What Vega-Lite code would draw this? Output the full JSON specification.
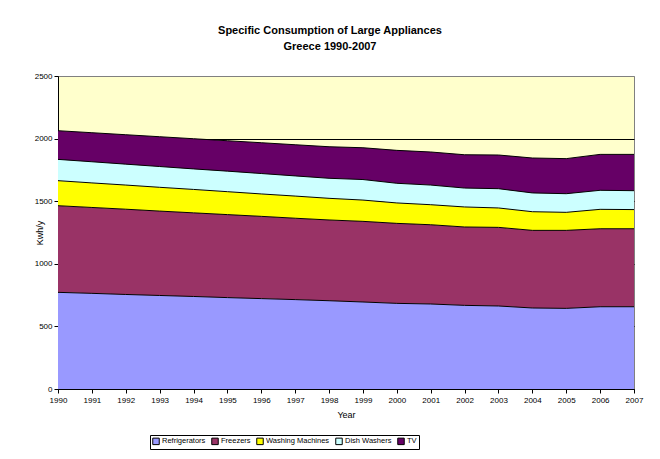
{
  "$schema": "https://vega.github.io/schema/vega-lite/v6.json",
  "autosize": {"type": "none"},
  "width": 576,
  "height": 313,
  "padding": {"left": 58, "top": 76, "right": 26, "bottom": 70},
  "background": "white",
  "title": {
    "text": ["Specific Consumption of Large Appliances", "Greece 1990-2007"],
    "font": "Liberation Sans",
    "fontSize": 11,
    "fontWeight": "bold",
    "lineHeight": 16,
    "offset": 20,
    "dx": -16,
    "color": "black"
  },
  "config": {
    "font": "Liberation Sans",
    "view": {"fill": "#FFFFCC", "stroke": "#808080", "strokeWidth": 1},
    "axis": {"domainColor": "black", "tickColor": "black", "labelColor": "black", "titleColor": "black", "labelFont": "Liberation Sans", "titleFont": "Liberation Sans", "titleFontWeight": "normal"}
  },
  "data": {
    "values": [
      {"year": 1990, "appliance": "Refrigerators", "value": 772},
      {"year": 1991, "appliance": "Refrigerators", "value": 764},
      {"year": 1992, "appliance": "Refrigerators", "value": 755},
      {"year": 1993, "appliance": "Refrigerators", "value": 747},
      {"year": 1994, "appliance": "Refrigerators", "value": 739},
      {"year": 1995, "appliance": "Refrigerators", "value": 730},
      {"year": 1996, "appliance": "Refrigerators", "value": 722},
      {"year": 1997, "appliance": "Refrigerators", "value": 714},
      {"year": 1998, "appliance": "Refrigerators", "value": 705},
      {"year": 1999, "appliance": "Refrigerators", "value": 695},
      {"year": 2000, "appliance": "Refrigerators", "value": 684},
      {"year": 2001, "appliance": "Refrigerators", "value": 679},
      {"year": 2002, "appliance": "Refrigerators", "value": 668},
      {"year": 2003, "appliance": "Refrigerators", "value": 663},
      {"year": 2004, "appliance": "Refrigerators", "value": 647},
      {"year": 2005, "appliance": "Refrigerators", "value": 644},
      {"year": 2006, "appliance": "Refrigerators", "value": 657},
      {"year": 2007, "appliance": "Refrigerators", "value": 657},
      {"year": 1990, "appliance": "Freezers", "value": 692},
      {"year": 1991, "appliance": "Freezers", "value": 686},
      {"year": 1992, "appliance": "Freezers", "value": 681},
      {"year": 1993, "appliance": "Freezers", "value": 674},
      {"year": 1994, "appliance": "Freezers", "value": 668},
      {"year": 1995, "appliance": "Freezers", "value": 663},
      {"year": 1996, "appliance": "Freezers", "value": 657},
      {"year": 1997, "appliance": "Freezers", "value": 650},
      {"year": 1998, "appliance": "Freezers", "value": 645},
      {"year": 1999, "appliance": "Freezers", "value": 644},
      {"year": 2000, "appliance": "Freezers", "value": 639},
      {"year": 2001, "appliance": "Freezers", "value": 633},
      {"year": 2002, "appliance": "Freezers", "value": 626},
      {"year": 2003, "appliance": "Freezers", "value": 628},
      {"year": 2004, "appliance": "Freezers", "value": 620},
      {"year": 2005, "appliance": "Freezers", "value": 623},
      {"year": 2006, "appliance": "Freezers", "value": 623},
      {"year": 2007, "appliance": "Freezers", "value": 623},
      {"year": 1990, "appliance": "Washing Machines", "value": 200},
      {"year": 1991, "appliance": "Washing Machines", "value": 196},
      {"year": 1992, "appliance": "Washing Machines", "value": 193},
      {"year": 1993, "appliance": "Washing Machines", "value": 190},
      {"year": 1994, "appliance": "Washing Machines", "value": 187},
      {"year": 1995, "appliance": "Washing Machines", "value": 183},
      {"year": 1996, "appliance": "Washing Machines", "value": 179},
      {"year": 1997, "appliance": "Washing Machines", "value": 177},
      {"year": 1998, "appliance": "Washing Machines", "value": 173},
      {"year": 1999, "appliance": "Washing Machines", "value": 170},
      {"year": 2000, "appliance": "Washing Machines", "value": 163},
      {"year": 2001, "appliance": "Washing Machines", "value": 160},
      {"year": 2002, "appliance": "Washing Machines", "value": 160},
      {"year": 2003, "appliance": "Washing Machines", "value": 155},
      {"year": 2004, "appliance": "Washing Machines", "value": 149},
      {"year": 2005, "appliance": "Washing Machines", "value": 144},
      {"year": 2006, "appliance": "Washing Machines", "value": 155},
      {"year": 2007, "appliance": "Washing Machines", "value": 153},
      {"year": 1990, "appliance": "Dish Washers", "value": 170},
      {"year": 1991, "appliance": "Dish Washers", "value": 169},
      {"year": 1992, "appliance": "Dish Washers", "value": 167},
      {"year": 1993, "appliance": "Dish Washers", "value": 166},
      {"year": 1994, "appliance": "Dish Washers", "value": 164},
      {"year": 1995, "appliance": "Dish Washers", "value": 164},
      {"year": 1996, "appliance": "Dish Washers", "value": 163},
      {"year": 1997, "appliance": "Dish Washers", "value": 161},
      {"year": 1998, "appliance": "Dish Washers", "value": 160},
      {"year": 1999, "appliance": "Dish Washers", "value": 164},
      {"year": 2000, "appliance": "Dish Washers", "value": 157},
      {"year": 2001, "appliance": "Dish Washers", "value": 157},
      {"year": 2002, "appliance": "Dish Washers", "value": 151},
      {"year": 2003, "appliance": "Dish Washers", "value": 154},
      {"year": 2004, "appliance": "Dish Washers", "value": 150},
      {"year": 2005, "appliance": "Dish Washers", "value": 149},
      {"year": 2006, "appliance": "Dish Washers", "value": 152},
      {"year": 2007, "appliance": "Dish Washers", "value": 151},
      {"year": 1990, "appliance": "TV", "value": 229},
      {"year": 1991, "appliance": "TV", "value": 232},
      {"year": 1992, "appliance": "TV", "value": 235},
      {"year": 1993, "appliance": "TV", "value": 238},
      {"year": 1994, "appliance": "TV", "value": 241},
      {"year": 1995, "appliance": "TV", "value": 243},
      {"year": 1996, "appliance": "TV", "value": 246},
      {"year": 1997, "appliance": "TV", "value": 249},
      {"year": 1998, "appliance": "TV", "value": 252},
      {"year": 1999, "appliance": "TV", "value": 254},
      {"year": 2000, "appliance": "TV", "value": 263},
      {"year": 2001, "appliance": "TV", "value": 264},
      {"year": 2002, "appliance": "TV", "value": 266},
      {"year": 2003, "appliance": "TV", "value": 269},
      {"year": 2004, "appliance": "TV", "value": 279},
      {"year": 2005, "appliance": "TV", "value": 280},
      {"year": 2006, "appliance": "TV", "value": 287},
      {"year": 2007, "appliance": "TV", "value": 290}
    ]
  },
  "transform": [
    {"calculate": "indexof(['Refrigerators','Freezers','Washing Machines','Dish Washers','TV'], datum.appliance)", "as": "stackIndex"}
  ],
  "encoding": {
    "x": {
      "field": "year",
      "type": "quantitative",
      "scale": {"domain": [1990, 2007], "nice": false, "zero": false},
      "axis": {
        "title": "Year",
        "values": [1990, 1991, 1992, 1993, 1994, 1995, 1996, 1997, 1998, 1999, 2000, 2001, 2002, 2003, 2004, 2005, 2006, 2007],
        "format": "d",
        "grid": false,
        "labelFontSize": 8,
        "labelAngle": 0,
        "labelPadding": 3,
        "labelOverlap": false,
        "labelFlush": false,
        "tickSize": 4,
        "titleFontSize": 9,
        "titlePadding": 6
      }
    },
    "y": {
      "field": "value",
      "type": "quantitative",
      "stack": "zero",
      "scale": {"domain": [0, 2500], "nice": false},
      "axis": {
        "title": "Kwh/y",
        "values": [0, 500, 1000, 1500, 2000, 2500],
        "format": "d",
        "grid": true,
        "gridColor": {"condition": {"test": "datum.value === 2500", "value": "#808080"}, "value": "black"},
        "gridWidth": 1,
        "labelFontSize": 8,
        "labelPadding": 2,
        "tickSize": 4,
        "titleFontSize": 9,
        "titleX": -14,
        "titleBaseline": "bottom"
      }
    },
    "order": {"field": "stackIndex", "type": "quantitative", "sort": "ascending"}
  },
  "layer": [
    {
      "mark": {"type": "area", "opacity": 1},
      "encoding": {
        "color": {
          "field": "appliance",
          "type": "nominal",
          "sort": ["Refrigerators", "Freezers", "Washing Machines", "Dish Washers", "TV"],
          "scale": {
            "domain": ["Refrigerators", "Freezers", "Washing Machines", "Dish Washers", "TV"],
            "range": ["#9999FF", "#993366", "#FFFF00", "#CCFFFF", "#660066"]
          },
          "legend": {
            "title": null,
            "orient": "none",
            "direction": "horizontal",
            "legendX": 92,
            "legendY": 359,
            "symbolType": "square",
            "symbolSize": 42,
            "symbolStrokeColor": "black",
            "symbolStrokeWidth": 1,
            "symbolOpacity": 1,
            "labelFontSize": 7.5,
            "labelFont": "Liberation Sans",
            "labelColor": "black",
            "labelOffset": 2,
            "columnPadding": 3,
            "strokeColor": "black",
            "padding": 2,
            "encode": {"symbols": {"enter": {"stroke": {"value": "black"}, "strokeWidth": {"value": 1}}, "update": {"stroke": {"value": "black"}, "strokeWidth": {"value": 1}}}}
          }
        }
      }
    },
    {
      "mark": {"type": "line", "color": "black", "strokeWidth": 1},
      "encoding": {
        "detail": {"field": "appliance", "type": "nominal"}
      }
    }
  ]
}
